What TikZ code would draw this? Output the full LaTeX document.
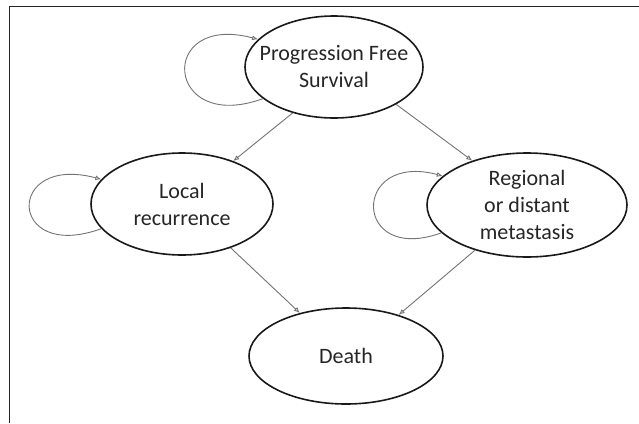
\documentclass[tikz,border=0pt]{standalone}
\usepackage{fontspec}
\setmainfont{Carlito}
\usepackage{tikz}
\usetikzlibrary{shapes,arrows.meta}

\begin{document}
\begin{tikzpicture}[x=1pt,y=1pt,
  state/.style={ellipse, draw=black!90, line width=1.6pt, inner sep=0pt, align=center,
    text=black!85, font=\fontsize{22}{27}\selectfont},
  trans/.style={draw=black!55, line width=0.9pt, -{Latex[open,length=6pt,width=5pt]}},
  selfloop/.style={trans, out=200, in=165, distance=#1}]

\useasboundingbox (0,0) rectangle (639,-423);
\draw [line width=1.8pt, black!85] (9.5,-423) -- (9.5,-6.5) -- (639,-6.5);

\node [state, minimum width=178pt, minimum height=102pt, inner xsep=-12pt] (pfs) at (334,-67) {Progression Free\\Survival};
\node [state, minimum width=182pt, minimum height=102pt] (local) at (182,-204) {Local\\recurrence};
\node [state, minimum width=200pt, minimum height=104pt, inner ysep=-2pt] (meta) at (527,-205) {Regional\\or distant\\metastasis};
\node [state, minimum width=194pt, minimum height=96pt] (death) at (346,-356) {Death};

\draw [trans] (pfs.228) -- (local.40);
\draw [trans] (pfs.329) -- (meta.141);
\draw [trans] (local.318) -- (death.137);
\draw [trans] (meta.221) -- (death.38);

% staying in the same state
\draw [selfloop=105pt] (pfs.204) to (pfs.160);
\draw [selfloop=100pt] (local.197) to (local.163);
\draw [selfloop=95pt] (meta.198) to (meta.161);

\end{tikzpicture}
\end{document}
